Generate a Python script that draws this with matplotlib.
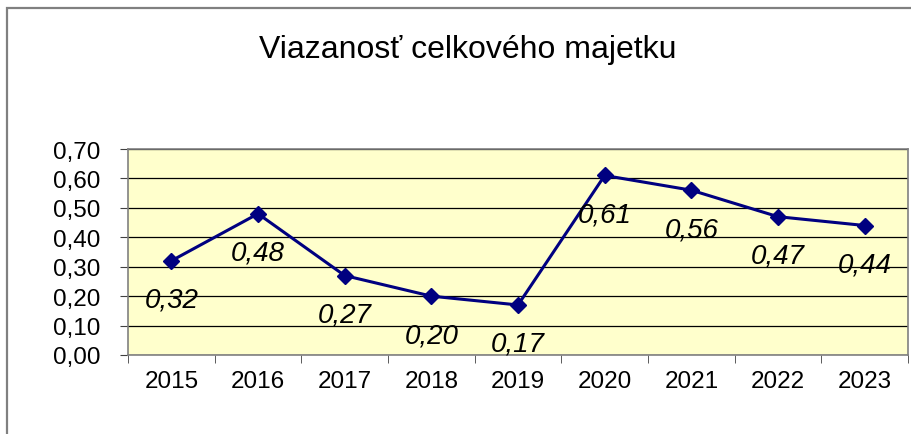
import numpy as np
import matplotlib.pyplot as plt
from matplotlib.patches import Rectangle

years = ['2015', '2016', '2017', '2018', '2019', '2020', '2021', '2022', '2023']
values = [0.32, 0.48, 0.27, 0.20, 0.17, 0.61, 0.56, 0.47, 0.44]

plt.rcParams['font.family'] = ['Liberation Sans', 'DejaVu Sans']

fig = plt.figure(figsize=(9.12, 4.35), dpi=100)
# outer chart frame (right and bottom run off the picture)
fig.patches.append(Rectangle((7 / 912, -0.05), 1.0, 1 - 9 / 435 + 0.05, transform=fig.transFigure,
                             fill=False, edgecolor='#808080', linewidth=1.6))

ax = fig.add_axes([128 / 912, 79 / 435, 780 / 912, 206 / 435])
ax.set_facecolor('#FFFFCC')

x = np.arange(len(years))
ax.plot(x, values, color='#000080', linewidth=2.2, marker='D', markersize=8, zorder=3)
for xi, v in zip(x, values):
    ax.annotate(f'{v:.2f}'.replace('.', ','), (xi, v), xytext=(0, -28), textcoords='offset points',
                ha='center', va='center', fontsize=20, style='italic', zorder=4)

ax.set_xlim(-0.5, len(years) - 0.5)
ax.set_ylim(0, 0.7)
ax.set_yticks(np.arange(0, 0.71, 0.1))
ax.set_yticklabels([f'{t:.2f}'.replace('.', ',') for t in np.arange(0, 0.71, 0.1)], fontsize=17.5)
ax.set_xticks(x)
ax.set_xticklabels(years, fontsize=17.5)
ax.set_xticks(np.arange(-0.5, len(years), 1), minor=True)
ax.tick_params(axis='x', which='major', length=0, pad=11)
ax.tick_params(axis='x', which='minor', length=6, direction='out', color='#404040')
ax.tick_params(axis='y', length=6, direction='out', pad=14, color='#404040')
ax.grid(axis='y', color='black', linewidth=0.9)
ax.set_axisbelow(True)
for s in ax.spines.values():
    s.set_color('#808080')
    s.set_linewidth(1.2)

fig.text(468 / 912, 1 - 50 / 435, 'Viazanosť celkového majetku', ha='center', va='center', fontsize=23)

fig.savefig('out.png', dpi=100)
